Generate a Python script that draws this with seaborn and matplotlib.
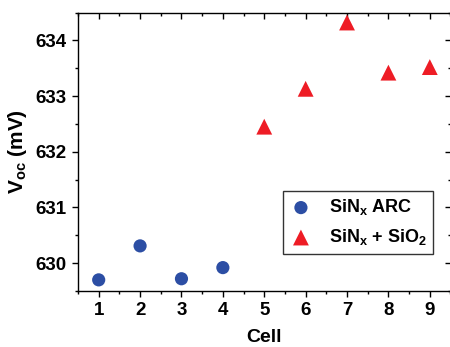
import matplotlib
matplotlib.use("Agg")
import matplotlib.pyplot as plt
import seaborn as sns
import pandas as pd

# ── Data ──────────────────────────────────────────────────────────────────────
cells_arc = [1, 2, 3, 4]
voc_arc = [629.70, 630.31, 629.72, 629.92]
cells_sio2 = [5, 6, 7, 8, 9]
voc_sio2 = [632.45, 633.13, 634.32, 633.42, 633.52]
label_arc = "SiN$_\\mathbf{x}$ ARC"
label_sio2 = "SiN$_\\mathbf{x}$ + SiO$_\\mathbf{2}$"

# ── Style ─────────────────────────────────────────────────────────────────────
sns.set_style("ticks")
plt.rcParams["font.family"] = ["Liberation Sans", "DejaVu Sans"]
plt.rcParams["font.weight"] = "bold"
plt.rcParams["text.color"] = "black"
plt.rcParams["axes.labelcolor"] = "black"
plt.rcParams["xtick.color"] = "black"
plt.rcParams["ytick.color"] = "black"
plt.rcParams["mathtext.fontset"] = "custom"
plt.rcParams["mathtext.rm"] = "Liberation Sans:bold"
plt.rcParams["mathtext.bf"] = "Liberation Sans:bold"
plt.rcParams["mathtext.it"] = "Liberation Sans:bold"
plt.rcParams["mathtext.default"] = "bf"

df_arc = pd.DataFrame({"cell": cells_arc, "voc": voc_arc})
df_sio2 = pd.DataFrame({"cell": cells_sio2, "voc": voc_sio2})

fig = plt.figure(figsize=(4.5, 3.47), dpi=100)
ax = fig.add_axes([78 / 450, 56 / 347, 372.5 / 450, 278.5 / 347])

sns.scatterplot(data=df_arc, x="cell", y="voc", ax=ax, marker="o", s=90,
                color="#2c4ea4", edgecolor="none", label=label_arc, zorder=3)
sns.scatterplot(data=df_sio2, x="cell", y="voc", ax=ax, marker="^", s=130,
                color="#ee1c25", edgecolor="none", label=label_sio2, zorder=3)

ax.set_xlim(0.5, 9.5)
ax.set_ylim(629.5, 634.5)
ax.set_xticks(range(1, 10))
ax.set_xticks([x + 0.5 for x in range(0, 10)], minor=True)
ax.set_yticks([630, 631, 632, 633, 634])
ax.set_yticks([629.5 + i for i in range(6)], minor=True)

for side in ["left", "right", "top", "bottom"]:
    ax.spines[side].set_visible(True)
    ax.spines[side].set_linewidth(1.0)
    ax.spines[side].set_color("black")

ax.tick_params(axis="both", which="major", direction="out", length=4, width=1,
               labelsize=13.5, colors="black", pad=4)
ax.tick_params(axis="both", which="minor", direction="out", length=2.5, width=1,
               colors="black")
ax.tick_params(axis="x", which="both", top=True)
ax.tick_params(axis="y", which="both", right=True)
# top/right ticks point inward
for t in ax.xaxis.get_major_ticks() + ax.xaxis.get_minor_ticks():
    t.tick2line.set_marker(3)
for t in ax.yaxis.get_major_ticks() + ax.yaxis.get_minor_ticks():
    t.tick2line.set_marker(0)

for lab in ax.get_xticklabels() + ax.get_yticklabels():
    lab.set_fontweight("bold")

ax.set_xlabel("Cell", fontsize=14, fontweight="bold", labelpad=7)
ax.set_ylabel("V$_\\mathbf{oc}$ (mV)", fontsize=15, fontweight="bold", labelpad=5)

leg = ax.legend(loc="upper left", bbox_to_anchor=(0.55, 0.359), frameon=True,
                fancybox=False, edgecolor="black", fontsize=13,
                handletextpad=0.9, borderpad=0.35, labelspacing=0.55,
                handlelength=1.3, borderaxespad=0)
leg.get_frame().set_linewidth(1.0)
for txt in leg.get_texts():
    txt.set_fontweight("bold")
    txt.set_color("black")

fig.savefig("out.png", dpi=100)
